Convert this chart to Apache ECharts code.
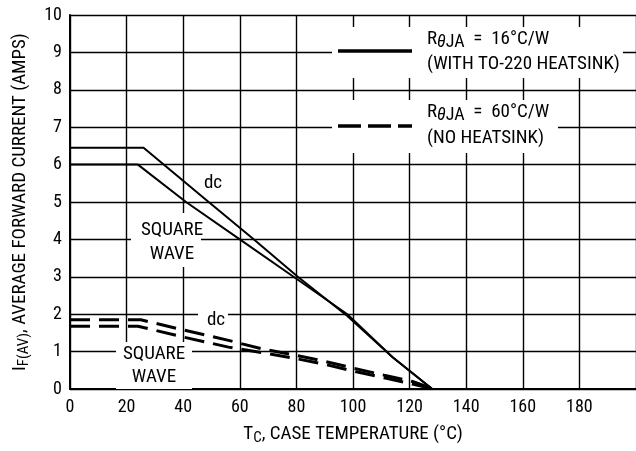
<!DOCTYPE html>
<html>
<head>
<meta charset="utf-8">
<script src="https://cdn.jsdelivr.net/npm/echarts@6/dist/echarts.min.js"></script>
<style>
html,body{margin:0;padding:0;background:#fff;}
#chart{width:636px;height:451px;}
</style>
</head>
<body>
<div id="chart"></div>
<script>
// ---- data ----
const xTicks = [0, 20, 40, 60, 80, 100, 120, 140, 160, 180];
const yTicks = [0, 1, 2, 3, 4, 5, 6, 7, 8, 9, 10];
// RθJA = 16°C/W (with heatsink), solid
const heatsinkDC = [[0, 6.45], [26, 6.45], [49, 5.0], [65, 4.0], [80.5, 3.0], [98, 1.95], [114, 0.85], [128, 0]];
const heatsinkSquare = [[0, 6.0], [24, 6.0], [41, 5.0], [60, 4.0], [79, 3.0], [98, 2.0], [114, 0.85], [128, 0]];
// RθJA = 60°C/W (no heatsink), dashed
const noHeatsinkDC = [[0, 1.85], [25, 1.85], [40, 1.58], [56, 1.3], [68, 1.07], [80, 0.9], [90, 0.74], [100, 0.56], [111, 0.37], [121, 0.2], [128.5, 0]];
const noHeatsinkSquare = [[0, 1.68], [24, 1.68], [40, 1.39], [56, 1.12], [68, 0.97], [80, 0.81], [90, 0.66], [100, 0.48], [111, 0.3], [121, 0.13], [128.5, 0]];

const FONT = "'Roboto Condensed', 'Liberation Sans', Arial, sans-serif";
const FS = 19;

const chart = echarts.init(document.getElementById('chart'), null, {renderer: 'canvas'});

function solid(name, data) {
  return {name, type: 'line', data, symbol: 'none', z: 10, animation: false,
    lineStyle: {color: '#000', width: 2, type: 'solid'}};
}
function dashed(name, data) {
  return {name, type: 'line', data, symbol: 'none', z: 10, animation: false,
    lineStyle: {color: '#000', width: 3, type: [20, 9]}};
}
function txt(x, y, s) {
  return {type: 'text', z: 6, x, y, style: {text: s, fontFamily: FONT, fontSize: FS, fill: '#000', align: 'center', verticalAlign: 'middle'}};
}
const rLabel = v => ({
  text: '{r|R}{th|θ}{s|JA}{r|  =  ' + v + '}',
  rich: {r: {fontFamily: FONT, fontSize: FS, fill: '#000'},
         th: {fontFamily: FONT, fontSize: 18, fontStyle: 'italic', fill: '#000', padding: [5, 0, 0, 0]},
         s: {fontFamily: FONT, fontSize: 18, fill: '#000', padding: [5, 0, 0, 0]}}
});

const option = {
  backgroundColor: '#fff',
  animation: false,
  grid: {left: 70, top: 15, width: 570, height: 376, containLabel: false},
  xAxis: {
    type: 'value', min: 0, max: 200, interval: 20,
    name: '{t|T}{s|C}{t|, CASE TEMPERATURE (°C)}',
    nameLocation: 'middle', nameGap: 34,
    nameTextStyle: {rich: {
      t: {fontFamily: FONT, fontSize: FS, color: '#000'},
      s: {fontFamily: FONT, fontSize: 15, color: '#000', padding: [8, 0, 0, 0]}
    }},
    axisLine: {show: true, onZero: false, lineStyle: {color: '#000', width: 2}},
    axisTick: {show: false},
    axisLabel: {color: '#000', fontFamily: FONT, fontSize: 18, margin: 9, showMaxLabel: false,
      formatter: v => xTicks.includes(v) ? String(v) : ''},
    splitLine: {show: true, lineStyle: {color: '#000', width: 1.4}}
  },
  yAxis: {
    type: 'value', min: 0, max: 10, interval: 1,
    name: '{t|I}{s|F(AV)}{t|, AVERAGE FORWARD CURRENT (AMPS)}',
    nameLocation: 'middle', nameGap: 38,
    nameTextStyle: {rich: {
      t: {fontFamily: FONT, fontSize: FS, color: '#000'},
      s: {fontFamily: FONT, fontSize: 15, color: '#000', padding: [8, 0, 0, 0]}
    }},
    axisLine: {show: true, onZero: false, lineStyle: {color: '#000', width: 2}},
    axisTick: {show: false},
    axisLabel: {color: '#000', fontFamily: FONT, fontSize: 18, margin: 8,
      formatter: v => yTicks.includes(v) ? String(v) : ''},
    splitLine: {show: true, lineStyle: {color: '#000', width: 1.4}}
  },
  series: [
    solid('16°C/W dc', heatsinkDC),
    solid('16°C/W square wave', heatsinkSquare),
    dashed('60°C/W dc', noHeatsinkDC),
    dashed('60°C/W square wave', noHeatsinkSquare)
  ],
  graphic: {elements: [
    // legend boxes (white background covering grid)
    {type: 'rect', z: 5, shape: {x: 332, y: 27, width: 291, height: 51}, style: {fill: '#fff'}},
    {type: 'rect', z: 5, shape: {x: 332, y: 100, width: 226, height: 53}, style: {fill: '#fff'}},
    {type: 'line', z: 6, shape: {x1: 338, y1: 51, x2: 412, y2: 51}, style: {stroke: '#000', lineWidth: 3.5}},
    {type: 'line', z: 6, shape: {x1: 338, y1: 126, x2: 412, y2: 126}, style: {stroke: '#000', lineWidth: 3.5, lineDash: [23, 7]}},
    {type: 'text', z: 6, left: 427, top: 30, style: rLabel('16°C/W')},
    {type: 'text', z: 6, left: 427, top: 55, style: {text: '(WITH TO-220 HEATSINK)', fontFamily: FONT, fontSize: FS, fill: '#000'}},
    {type: 'text', z: 6, left: 427, top: 103, style: rLabel('60°C/W')},
    {type: 'text', z: 6, left: 427, top: 129, style: {text: '(NO HEATSINK)', fontFamily: FONT, fontSize: FS, fill: '#000'}},
    // curve annotations
    txt(213, 183, 'dc'),
    {type: 'rect', z: 5, shape: {x: 131, y: 213, width: 70, height: 54}, style: {fill: '#fff'}},
    txt(172, 230, 'SQUARE'),
    txt(172, 254, 'WAVE'),
    {type: 'rect', z: 5, shape: {x: 198, y: 312, width: 30, height: 16}, style: {fill: '#fff'}},
    txt(216, 320, 'dc'),
    {type: 'rect', z: 5, shape: {x: 116, y: 342, width: 76, height: 47}, style: {fill: '#fff'}},
    txt(154, 354, 'SQUARE'),
    txt(154, 377, 'WAVE')
  ]}
};
chart.setOption(option);
</script>
</body>
</html>
